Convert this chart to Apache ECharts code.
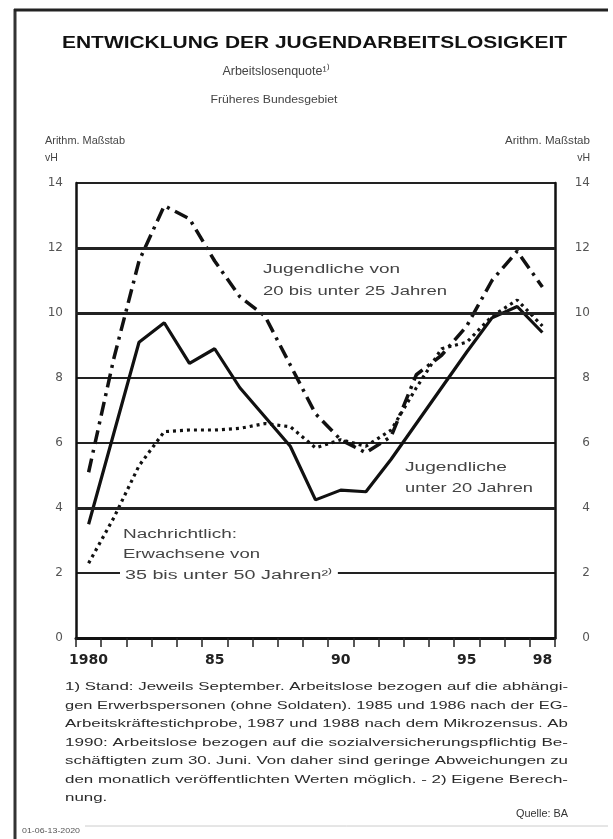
<!DOCTYPE html>
<html>
<head>
<meta charset="utf-8">
<script src="https://cdn.jsdelivr.net/npm/echarts@6/dist/echarts.min.js"></script>
<style>
html,body{margin:0;padding:0;background:#fff;}
#chart{width:613px;height:839px;}
</style>
</head>
<body>
<div id="chart"></div>
<script>
// ---------- DATA ----------
var years = ['1980','1981','1982','1983','1984','1985','1986','1987','1988','1989','1990','1991','1992','1993','1994','1995','1996','1997','1998'];
var xTickLabels = ['1980','','','','','85','','','','','90','','','','','95','','','98'];
// Jugendliche von 20 bis unter 25 Jahren (dash-dot)
var youth20to25 = [5.1, 8.6, 11.6, 13.3, 12.9, 11.6, 10.5, 9.9, 8.4, 6.9, 6.1, 5.7, 6.2, 8.1, 8.7, 9.6, 11.0, 11.9, 10.8];
// Jugendliche unter 20 Jahren (solid)
var youthUnder20 = [3.5, 6.3, 9.1, 9.7, 8.45, 8.9, 7.7, 6.8, 5.9, 4.25, 4.55, 4.5, 5.5, 6.6, 7.7, 8.8, 9.85, 10.2, 9.4];
// Nachrichtlich: Erwachsene von 35 bis unter 50 Jahren (dotted)
var adults35to50 = [2.3, 3.7, 5.3, 6.35, 6.4, 6.4, 6.45, 6.6, 6.5, 5.85, 6.1, 5.9, 6.4, 7.7, 8.9, 9.1, 9.9, 10.4, 9.6];
var yTicks = [0, 2, 4, 6, 8, 10, 12, 14];
var thickGridValues = [4, 10, 12];

var titleText = 'ENTWICKLUNG DER JUGENDARBEITSLOSIGKEIT';
var subtitle1 = 'Arbeitslosenquote\u00B9\u207E';
var subtitle2 = 'Früheres Bundesgebiet';
var scaleNote = 'Arithm. Maßstab';
var unitText = 'vH';
var footnoteLines = [
  '1) Stand: Jeweils September. Arbeitslose bezogen auf die abhängi-',
  'gen Erwerbspersonen (ohne Soldaten). 1985 und 1986 nach der EG-',
  'Arbeitskräftestichprobe, 1987 und 1988 nach dem Mikrozensus. Ab',
  '1990: Arbeitslose bezogen auf die sozialversicherungspflichtig Be-',
  'schäftigten zum 30. Juni. Von daher sind geringe Abweichungen zu',
  'den monatlich veröffentlichten Werten möglich. - 2) Eigene Berech-',
  'nung.'
];
var sourceText = 'Quelle: BA';
var codeText = '01-06-13-2020';

// ---------- helpers ----------
var mctx = document.createElement('canvas').getContext('2d');
function measure(t, font){ mctx.font = font; return mctx.measureText(t).width; }
var FF = '"Liberation Sans", Arial, sans-serif';
function txt(t, x, y, opts){
  opts = opts || {};
  var size = opts.size || 11, weight = opts.weight || 'normal';
  var font = weight + ' ' + size + 'px ' + FF;
  var sx = 1;
  if (opts.width) sx = opts.width / measure(t, font);
  var st = {
    text: t, font: font, fill: opts.color || '#333',
    textAlign: opts.align || 'left', textVerticalAlign: 'middle'
  };
  if (opts.bg) { st.backgroundColor = opts.bg; st.padding = [1, 3, 1, 3]; }
  return { type: 'text', x: x, y: y, scaleX: sx, z: 100, style: st, silent: true };
}

var chart = echarts.init(document.getElementById('chart'), null, {renderer: 'canvas'});

var graphics = [
  // frame
  {type:'line', shape:{x1:15,y1:9,x2:15,y2:839}, style:{stroke:'#333', lineWidth:3}, z:50},
  {type:'line', shape:{x1:14,y1:10,x2:608,y2:10}, style:{stroke:'#222', lineWidth:3}, z:50},
  {type:'line', shape:{x1:85,y1:826,x2:608,y2:826}, style:{stroke:'#ccc', lineWidth:1}, z:50},
  txt(titleText, 62, 44, {size:16, weight:'bold', width:505, color:'#111'}),
  txt(subtitle1, 276, 72, {size:12.5, color:'#444', align:'center'}),
  txt(subtitle2, 274, 100, {size:11.5, width:127, color:'#444', align:'center'}),
  txt(scaleNote, 45, 141, {size:10.5, width:80, color:'#444'}),
  txt(unitText, 45, 158, {size:10.5, color:'#444'}),
  txt(scaleNote, 590, 141, {size:10.5, width:85, color:'#444', align:'right'}),
  txt(unitText, 590, 158, {size:10.5, color:'#444', align:'right'}),
  // annotations
  txt('Jugendliche von', 263, 270, {size:12, width:137, color:'#444'}),
  txt('20 bis unter 25 Jahren', 263, 292, {size:12, width:184, color:'#444'}),
  txt('Jugendliche', 405, 468, {size:12, width:102, color:'#444'}),
  txt('unter 20 Jahren', 405, 489, {size:12, width:128, color:'#444'}),
  txt('Nachrichtlich:', 123, 535, {size:12, width:114, color:'#444'}),
  txt('Erwachsene von', 123, 555, {size:12, width:137, color:'#444'}),
  txt('35 bis unter 50 Jahren\u00B2\u207E', 120, 576, {size:12, width:208, color:'#444', bg:'#fff'}),
  txt(sourceText, 568, 814, {size:11.5, width:52, color:'#333', align:'right'}),
  txt(codeText, 22, 831, {size:7, width:58, color:'#555'})
];
var fnFont = 'normal 11.5px ' + FF;
footnoteLines.forEach(function(l, i){
  var o = {size:11.5, color:'#2a2a2a'};
  if (i < footnoteLines.length - 1) o.width = 503;
  else o.width = measure(l, fnFont) * 503 / measure(footnoteLines[0], fnFont);
  graphics.push(txt(l, 65, 687 + i * 18.5, o));
});

var thickMarks = thickGridValues.map(function(v){ return {yAxis: v}; });

var option = {
  animation: false,
  backgroundColor: '#fff',
  grid: {left: 76, right: 58, top: 183, bottom: 201, containLabel: false},
  xAxis: {
    type: 'category', data: years, boundaryGap: true,
    axisLine: {show: true, onZero: false, lineStyle: {color: '#111', width: 3}},
    axisTick: {show: true, interval: 0, length: 9, inside: false, lineStyle: {color: '#222', width: 1.5}},
    axisLabel: {
      interval: 0, margin: 15, color: '#222', fontSize: 14, fontWeight: 'bold',
      fontFamily: '"DejaVu Sans", sans-serif',
      formatter: function(v, i){ return xTickLabels[i]; }
    },
    splitLine: {show: false}
  },
  yAxis: [{
    type: 'value', min: 0, max: 14, interval: 2, position: 'left',
    axisLine: {show: true, lineStyle: {color: '#111', width: 2.5}},
    axisTick: {show: false},
    axisLabel: {margin: 13, align: 'right', color: '#555', fontSize: 12, fontFamily: '"DejaVu Sans", sans-serif'},
    splitLine: {show: true, lineStyle: {color: '#222', width: 2}}
  }, {
    type: 'value', min: 0, max: 14, interval: 2, position: 'right',
    axisLine: {show: true, lineStyle: {color: '#111', width: 2.5}},
    axisTick: {show: false},
    axisLabel: {margin: 35, align: 'right', color: '#555', fontSize: 12, fontFamily: '"DejaVu Sans", sans-serif'},
    splitLine: {show: false}
  }],
  series: [{
    name: 'Jugendliche von 20 bis unter 25 Jahren', type: 'line', data: youth20to25,
    symbol: 'none', lineStyle: {color: '#111', width: 3.5, type: [14, 6, 3, 6]},
    markLine: {silent: true, symbol: 'none', label: {show: false},
      lineStyle: {color: '#222', width: 3, type: 'solid'}, data: thickMarks}
  }, {
    name: 'Jugendliche unter 20 Jahren', type: 'line', data: youthUnder20,
    symbol: 'none', lineStyle: {color: '#111', width: 3.2, type: 'solid'}
  }, {
    name: 'Erwachsene von 35 bis unter 50 Jahren', type: 'line', data: adults35to50,
    symbol: 'none', lineStyle: {color: '#111', width: 3.2, type: [3, 4]}
  }],
  graphic: graphics
};
chart.setOption(option);
</script>
</body>
</html>
